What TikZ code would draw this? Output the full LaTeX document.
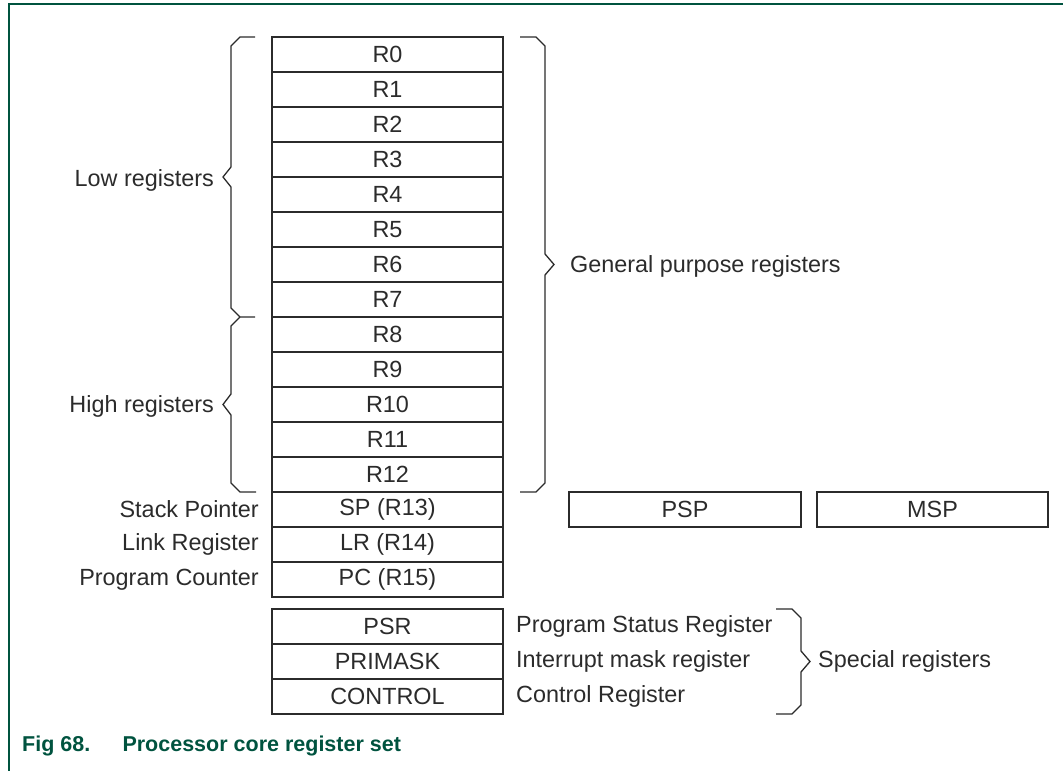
\documentclass[tikz,border=0pt]{standalone}
\usepackage{fontspec}
\setmainfont{Liberation Sans}
\definecolor{nxpgreen}{HTML}{00533F}
\definecolor{ink}{HTML}{2B2B2B}
\begin{document}
\begin{tikzpicture}[x=1pt,y=-1pt,
  every node/.style={font=\fontsize{23.4}{27}\selectfont, text=ink},
  reg/.style={draw=ink, line width=1.2pt, minimum width=231pt, minimum height=35pt, inner sep=0pt, anchor=center},
  brace/.style={draw=ink, line width=1.3pt, line join=miter},
  lbl/.style={inner sep=0pt}]
\useasboundingbox (0,0) rectangle (1063,771);
% frame
\draw[nxpgreen, line width=2pt] (9,771) -- (9,4) -- (1063,4);
% general registers
\foreach \i/\t in {0/R0,1/R1,2/R2,3/R3,4/R4,5/R5,6/R6,7/R7,8/R8,9/R9,10/R10,11/R11,12/R12,13/SP (R13),14/LR (R14),15/PC (R15)}{
  \node[reg] (r\i) at (387.5,54.5+35*\i) {\t};
}
% special registers
\node[reg] (psr) at (387.5,626.5) {PSR};
\node[reg] (primask) at (387.5,661.5) {PRIMASK};
\node[reg] (control) at (387.5,696.5) {CONTROL};
% banked SP
\node[reg, minimum width=232pt] (psp) at (685,509.5) {PSP};
\node[reg] (msp) at (932.5,509.5) {MSP};
% braces
\draw[brace] (255,37) -- (240,37) -- (231,46) -- (231,167) -- (223,177) -- (231,187) -- (231,308) -- (240,317) -- (255,317);
\draw[brace] (240,317) -- (231,326) -- (231,394) -- (223,404.5) -- (231,415) -- (231,483) -- (240,492) -- (256,492);
\draw[brace] (520,37) -- (536,37) -- (545,46) -- (545,254) -- (554,264.5) -- (545,275) -- (545,483) -- (536,492) -- (520,492);
\draw[brace] (776,609) -- (792,609) -- (801,618) -- (801,651) -- (810,661.5) -- (801,672) -- (801,705) -- (792,714) -- (776,714);
% labels
\node[lbl, anchor=east] (low) at (214,180) {Low registers};
\node[lbl, anchor=east] (high) at (214,406) {High registers};
\node[lbl, anchor=west] (gp) at (570,266) {General purpose registers};
\node[lbl, anchor=east] (spl) at (259,509.5) {Stack Pointer};
\node[lbl, anchor=east] (lrl) at (259,544.5) {Link Register};
\node[lbl, anchor=east] (pcl) at (259,579.5) {Program Counter};
\node[lbl, anchor=west] (psrl) at (516,626.5) {Program Status Register};
\node[lbl, anchor=west] (priml) at (516,661.5) {Interrupt mask register};
\node[lbl, anchor=west] (ctrll) at (516,696.5) {Control Register};
\node[lbl, anchor=west] (spec) at (818,661.5) {Special registers};
% caption
\node[lbl, anchor=west, text=nxpgreen, font=\fontsize{21.5}{25}\selectfont\bfseries] (cap) at (22,746) {Fig 68.\hspace{1.5em}Processor core register set};
\end{tikzpicture}
\end{document}
